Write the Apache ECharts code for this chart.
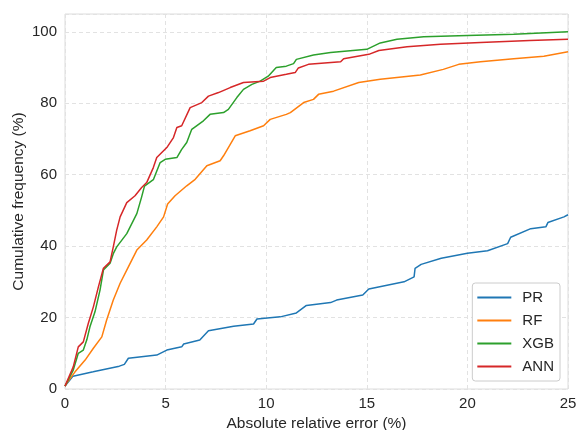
<!DOCTYPE html>
<html>
<head>
<meta charset="utf-8">
<script src="https://cdn.jsdelivr.net/npm/echarts@6/dist/echarts.min.js"></script>
<style>
  html, body { margin: 0; padding: 0; background: #fff; }
  #chart { width: 577px; height: 430px; }
</style>
</head>
<body>
<div id="chart"></div>
<script>
// values
var names = ['PR', 'RF', 'XGB', 'ANN'];
var colors = ['#1f77b4', '#ff7f0e', '#2ca02c', '#d62728'];

var prX = [0, 0.4, 1.4, 2.7, 2.95, 3.15, 4.56, 5.06, 5.8, 5.9, 6.7, 7.13, 8.38, 9.37, 9.54, 10.7, 11.5, 12.0, 13.2, 13.5, 14.8, 15.1, 16.85, 17.35, 17.4, 17.7, 18.7, 20.0, 21.0, 22.0, 22.15, 23.15, 23.9, 24.0, 24.8, 25];
var prY = [0.8, 3.6, 4.8, 6.4, 6.9, 8.6, 9.5, 10.9, 11.8, 12.6, 13.7, 16.3, 17.6, 18.2, 19.6, 20.2, 21.3, 23.4, 24.2, 24.9, 26.3, 28.0, 30.0, 31.4, 33.8, 34.9, 36.6, 38.0, 38.7, 40.7, 42.5, 44.9, 45.4, 46.6, 48.2, 48.8];

var rfX = [0, 0.08, 0.5, 1.0, 1.41, 1.83, 2.07, 2.4, 2.74, 3.15, 3.57, 4.06, 4.56, 4.9, 5.1, 5.47, 6.05, 6.47, 7.05, 7.71, 7.88, 8.46, 9.2, 9.87, 10.2, 11.0, 11.2, 11.86, 12.35, 12.6, 13.35, 14.6, 15.67, 17.66, 18.8, 19.57, 20.65, 22.3, 23.8, 25];
var rfY = [0.8, 1.6, 4.8, 8.1, 11.4, 14.6, 19.3, 24.9, 29.6, 34.2, 38.9, 41.7, 45.4, 48.2, 51.8, 54.1, 56.9, 58.7, 62.5, 63.9, 65.3, 70.9, 72.3, 73.7, 75.5, 76.9, 77.4, 80.2, 81.1, 82.5, 83.4, 85.8, 86.7, 87.9, 89.5, 90.9, 91.6, 92.5, 93.2, 94.4];

var xgbX = [0, 0.41, 0.66, 0.91, 1.08, 1.24, 1.49, 1.74, 1.91, 2.24, 2.4, 2.57, 3.07, 3.57, 3.81, 3.95, 4.39, 4.73, 4.98, 5.56, 5.8, 6.05, 6.3, 6.88, 7.21, 7.88, 8.12, 8.54, 8.87, 9.29, 9.7, 10.1, 10.5, 11.0, 11.36, 11.5, 12.35, 13.2, 15.0, 15.67, 16.5, 17.83, 20.0, 22.3, 25];
var xgbY = [0.8, 5.3, 10.0, 10.9, 13.7, 17.4, 21.6, 27.7, 33.3, 35.2, 37.9, 39.8, 43.5, 49.1, 53.8, 56.8, 58.6, 63.4, 64.3, 64.8, 67.1, 69.0, 72.7, 75.1, 76.9, 77.4, 78.3, 81.6, 83.9, 85.3, 86.2, 87.6, 90.0, 90.4, 91.1, 92.3, 93.5, 94.2, 95.1, 96.9, 97.9, 98.6, 99.0, 99.3, 100.0];

var annX = [0, 0.41, 0.66, 0.91, 1.16, 1.41, 1.66, 1.91, 2.24, 2.4, 2.57, 2.74, 3.07, 3.48, 3.81, 4.06, 4.39, 4.56, 5.06, 5.39, 5.56, 5.8, 6.22, 6.8, 7.13, 7.63, 8.21, 8.87, 9.87, 10.2, 11.0, 11.44, 11.6, 12.1, 13.7, 13.85, 15.1, 15.6, 17.0, 18.66, 20.65, 23.1, 25];
var annY = [0.8, 6.2, 11.8, 13.2, 18.4, 23.0, 28.6, 33.8, 35.6, 39.8, 44.5, 48.2, 52.2, 54.1, 56.4, 57.8, 62.0, 64.8, 67.6, 70.4, 73.2, 73.7, 78.8, 80.2, 82.0, 83.0, 84.4, 85.8, 86.2, 87.2, 88.1, 88.6, 89.9, 90.9, 91.6, 92.5, 93.7, 94.8, 95.8, 96.5, 97.0, 97.6, 97.9];

var xTicks = [0, 5, 10, 15, 20, 25];
var yTicks = [0, 20, 40, 60, 80, 100];

function pairs(xs, ys) {
  return xs.map(function (x, i) { return [x, ys[i]]; });
}

var allX = [prX, rfX, xgbX, annX];
var allY = [prY, rfY, xgbY, annY];

var font = 'Liberation Sans, Arial, sans-serif';
var myChart = echarts.init(document.getElementById('chart'));

var series = names.map(function (n, i) {
  return {
    name: n,
    type: 'line',
    data: pairs(allX[i], allY[i]),
    symbol: 'none',
    lineStyle: {color: colors[i], width: 1.5},
    itemStyle: {color: colors[i]}
  };
});

myChart.setOption({
  animation: false,
  backgroundColor: '#fff',
  grid: {
    left: 65, right: 9, top: 14, bottom: 41,
    outerBoundsMode: 'none', containLabel: false,
    show: true, borderColor: '#dcdcdc', borderWidth: 1
  },
  legend: {
    orient: 'vertical',
    right: 17,
    bottom: 49,
    icon: 'rect',
    itemWidth: 34,
    itemHeight: 2,
    itemGap: 6,
    padding: [6, 6, 6, 5],
    backgroundColor: '#fff',
    borderColor: '#cccccc',
    borderWidth: 1,
    borderRadius: 3,
    textStyle: {fontFamily: font, fontSize: 15, lineHeight: 17, color: '#262626', padding: [0, 0, 0, 6]},
    data: names
  },
  xAxis: {
    type: 'value',
    min: xTicks[0],
    max: xTicks[xTicks.length - 1],
    interval: 5,
    name: 'Absolute relative error (%)',
    nameLocation: 'middle',
    nameGap: 27,
    nameMoveOverlap: false,
    nameTextStyle: {fontFamily: font, fontSize: 15.5, color: '#262626'},
    axisLine: {show: false},
    axisTick: {show: false},
    axisLabel: {fontFamily: font, fontSize: 15, color: '#262626', margin: 7},
    splitLine: {show: true, lineStyle: {color: '#e2e2e2', type: [4, 3], width: 1}}
  },
  yAxis: {
    type: 'value',
    min: yTicks[0],
    max: 105,
    interval: 20,
    name: 'Cumulative frequency (%)',
    nameLocation: 'middle',
    nameGap: 38,
    nameMoveOverlap: false,
    nameTextStyle: {fontFamily: font, fontSize: 15.5, color: '#262626'},
    axisLine: {show: false},
    axisTick: {show: false},
    axisLabel: {fontFamily: font, fontSize: 15, color: '#262626', margin: 8, showMaxLabel: false},
    splitLine: {show: true, lineStyle: {color: '#e2e2e2', type: [4, 3], width: 1}}
  },
  series: series
});
</script>
</body>
</html>
